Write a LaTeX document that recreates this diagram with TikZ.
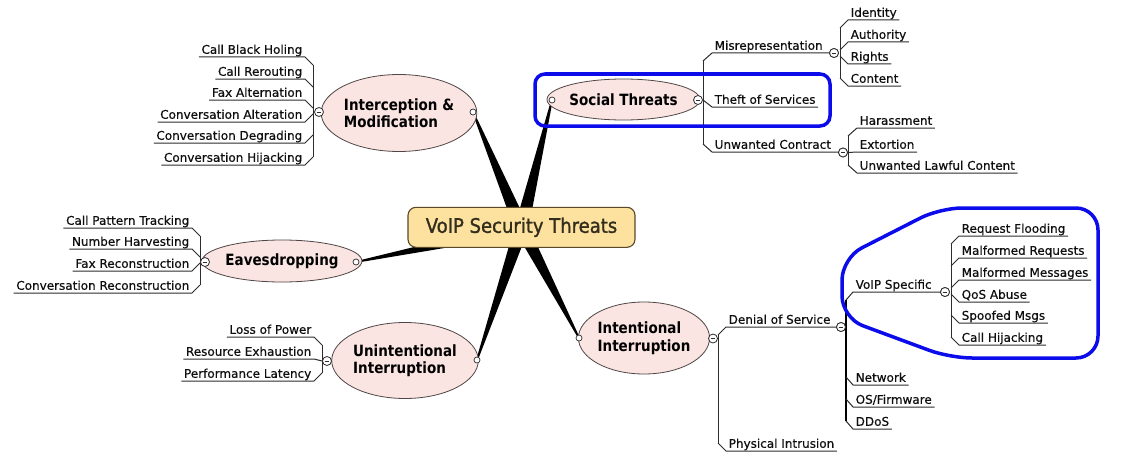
\documentclass[tikz,border=0pt]{standalone}
\usepackage{fontspec}
\setmainfont{DejaVu Sans}[FakeBold=0.4]
\newfontfamily\ctrfont{DejaVu Sans}[FakeStretch=0.9,FakeBold=1.3]
\newfontfamily\ellfont{DejaVu Sans}[FakeStretch=0.87]
\usetikzlibrary{shapes.geometric,calc}
\definecolor{ellf}{RGB}{250,229,226}
\definecolor{elld}{RGB}{80,70,70}
\definecolor{ctrf}{RGB}{252,226,158}
\definecolor{ctrd}{RGB}{90,72,40}
\definecolor{ctrt}{RGB}{50,45,28}
\definecolor{ln}{RGB}{45,45,45}
\definecolor{txt}{RGB}{15,15,15}
\definecolor{hl}{RGB}{12,12,235}
\begin{document}
\begin{tikzpicture}[x=1pt,y=-1pt,
  base/.style={font=\fontsize{12}{14}\selectfont, text=txt, inner xsep=2.5pt, inner ysep=1pt, text height=9pt, text depth=2pt},
  lc/.style={base, anchor=south east},
  rc/.style={base, anchor=south west},
  br/.style={draw=ln, line width=1pt},
  ell/.style={ellipse, draw=elld, fill=ellf, line width=0.8pt, inner sep=0pt, align=left, text=black,
    font={\ellfont\fontsize{15.5}{17.5}\selectfont\bfseries}},
  ctr/.style={rectangle, rounded corners=8pt, draw=ctrd, fill=ctrf, line width=1.1pt, minimum width=227pt, minimum height=40pt,
    text=ctrt, font={\ctrfont\fontsize{20}{22}\selectfont}},
  minus/.style={circle, draw=ln, fill=white, line width=0.8pt, minimum size=9pt, inner sep=0pt,
    path picture={\draw[ln, line width=0.8pt] ([xshift=-2.3pt]path picture bounding box.center) -- ([xshift=2.3pt]path picture bounding box.center);}},
  tipc/.style={circle, draw=ln, fill=white, line width=0.7pt, minimum size=6pt, inner sep=0pt},
  hlbox/.style={draw=hl, line width=3.5pt, rounded corners=10pt}
]
\fill[white] (0,0) rectangle (1124,460);
\useasboundingbox (0,0) rectangle (1124,460);

% hub and wedge tips
\coordinate (hub) at (521.5,228);
\coordinate (ti) at (473,112);
\coordinate (ts) at (552,100);
\coordinate (te) at (356,262);
\coordinate (tu) at (477,360);
\coordinate (tn) at (579,338);
\foreach \t in {ti,ts,te,tu,tn}
  \fill[black] ($(hub)!7pt!90:(\t)$) -- ($(\t)!0.8pt!-90:(hub)$) -- ($(\t)!0.8pt!90:(hub)$) -- ($(hub)!7pt!-90:(\t)$) -- cycle;

\node[ctr] (root) at (521.5,227.3) {VoIP Security Threats};

% main topics
\node[ell, minimum width=148pt, minimum height=77pt] (ic) at (399,113) {Interception \&\\Modification};
\node[ell, minimum width=135pt, minimum height=41pt] (sc) at (623.5,99.5) {Social Threats};
\node[ell, minimum width=137pt, minimum height=42pt] (ec) at (282,261) {Eavesdropping};
\node[ell, minimum width=138pt, minimum height=76pt] (uc) at (405,360.5) {Unintentional\\Interruption};
\node[ell, minimum width=122pt, minimum height=72pt] (nc) at (644,338) {Intentional\\Interruption};

\node[tipc] (tic) at (ti) {};
\node[tipc] (tsc) at (ts) {};
\node[tipc] (tec) at (te) {};
\node[tipc] (tuc) at (tu) {};
\node[tipc] (tnc) at (tn) {};

% ---------- Interception & Modification ----------
\coordinate (it1) at (313,65); \coordinate (it2) at (313,157);
\draw[br] (it1) -- (it2);
\node[lc] (i1) at (305,57) {Call Black Holing};
\node[lc] (i2) at (305,79) {Call Rerouting};
\node[lc] (i3) at (305,100) {Fax Alternation};
\node[lc] (i4) at (305,122) {Conversation Alteration};
\node[lc] (i5) at (305,143) {Conversation Degrading};
\node[lc] (i6) at (305,165) {Conversation Hijacking};
\foreach \n in {i1,i2,i3} \draw[br] (\n.south west) -- (\n.south east) -- ++(8,8);
\foreach \n in {i4,i5,i6} \draw[br] (\n.south west) -- (\n.south east) -- ++(8,-8);
\node[minus] (im) at (319,112) {};

% ---------- Eavesdropping ----------
\coordinate (et1) at (200,236); \coordinate (et2) at (200,285);
\draw[br] (et1) -- (et2);
\node[lc] (e1) at (192,228) {Call Pattern Tracking};
\node[lc] (e2) at (192,249) {Number Harvesting};
\node[lc] (e3) at (192,271) {Fax Reconstruction};
\node[lc] (e4) at (192,293) {Conversation Reconstruction};
\foreach \n in {e1,e2} \draw[br] (\n.south west) -- (\n.south east) -- ++(8,8);
\foreach \n in {e3,e4} \draw[br] (\n.south west) -- (\n.south east) -- ++(8,-8);
\node[minus] (em) at (205,262) {};

% ---------- Unintentional Interruption ----------
\coordinate (ut1) at (322,345); \coordinate (ut2) at (322,373);
\draw[br] (ut1) -- (ut2);
\node[lc] (u1) at (314,337) {Loss of Power};
\node[lc] (u2) at (314,359) {Resource Exhaustion};
\node[lc] (u3) at (314,381) {Performance Latency};
\draw[br] (u1.south west) -- (u1.south east) -- ++(8,8);
\draw[br] (u2.south west) -- (u2.south east) -- ++(8,2);
\draw[br] (u3.south west) -- (u3.south east) -- ++(8,-8);
\node[minus] (um) at (327,361) {};

% ---------- Social Threats ----------
\coordinate (st1) at (703,61); \coordinate (st2) at (703,144);
\draw[br] (st1) -- (st2);
\node[minus] (sm1) at (834,53) {};
\node[minus] (sm2) at (843,152.5) {};
\node[rc] (s1) at (712,53) {Misrepresentation};
\node[rc] (s2) at (712,107) {Theft of Services};
\node[rc] (s3) at (712,152) {Unwanted Contract};
\draw[br] (s1.south west -| sm1.west) -- (s1.south west) -- ++(-9,8);
\draw[br] (s2.south east) -- (s2.south west) -- ++(-9,-7);
\draw[br] (s3.south west -| sm2.west) -- (s3.south west) -- ++(-9,-8);
\node[minus] (sm) at (698,100) {};

% Misrepresentation children
\coordinate (mt1) at (840,28); \coordinate (mt2) at (840,78);
\draw[br] (mt1) -- (mt2);
\node[rc] (m1) at (848,20) {Identity};
\node[rc] (m2) at (848,42) {Authority};
\node[rc] (m3) at (848,64) {Rights};
\node[rc] (m4) at (848,86) {Content};
\foreach \n in {m1,m2} \draw[br] (\n.south east) -- (\n.south west) -- ++(-8,8);
\foreach \n in {m3,m4} \draw[br] (\n.south east) -- (\n.south west) -- ++(-8,-8);
\node[minus] at (sm1) {};

% Unwanted Contract children
\coordinate (wt1) at (848,136); \coordinate (wt2) at (848,165);
\draw[br] (wt1) -- (wt2);
\node[rc] (w1) at (857,128) {Harassment};
\node[rc] (w2) at (857,152) {Extortion};
\node[rc] (w3) at (857,173) {Unwanted Lawful Content};
\draw[br] (w1.south east) -- (w1.south west) -- ++(-9,8);
\draw[br] (w2.south east) -- (w2.south west) -- ++(-9,0.5);
\draw[br] (w3.south east) -- (w3.south west) -- ++(-9,-8);
\node[minus] at (sm2) {};

% ---------- Intentional Interruption ----------
\coordinate (nt1) at (718,335); \coordinate (nt2) at (718,443);
\draw[br] (nt1) -- (nt2);
\node[minus] (dm) at (841,327) {};
\node[rc] (n1) at (726,327) {Denial of Service};
\node[rc] (n2) at (726,451) {Physical Intrusion};
\draw[br] (n1.south west -| dm.west) -- (n1.south west) -- ++(-8,8);
\draw[br] (n2.south east) -- (n2.south west) -- ++(-8,-8);
\node[minus] (nm) at (713,338.5) {};

% Denial of Service children
\coordinate (dt1) at (846,300); \coordinate (dt2) at (846,421);
\draw[draw=black, line width=1.3pt] (dt1) -- (dt2);
\node[minus] (vm) at (945,292) {};
\node[rc] (d1) at (853,292) {VoIP Specific};
\node[rc] (d2) at (853,385) {Network};
\node[rc] (d3) at (853,407) {OS/Firmware};
\node[rc] (d4) at (853,429) {DDoS};
\draw[br] (d1.south west -| vm.west) -- (d1.south west) -- ++(-7,8);
\foreach \n in {d2,d3,d4} \draw[br] (\n.south east) -- (\n.south west) -- ++(-7,-8);
\node[minus] at (dm) {};

% VoIP Specific children
\coordinate (vt1) at (951,244); \coordinate (vt2) at (951,337);
\draw[br] (vt1) -- (vt2);
\node[rc] (v1) at (959,236) {Request Flooding};
\node[rc] (v2) at (959,258) {Malformed Requests};
\node[rc] (v3) at (959,280) {Malformed Messages};
\node[rc] (v4) at (959,302) {QoS Abuse};
\node[rc] (v5) at (959,323) {Spoofed Msgs};
\node[rc] (v6) at (959,345) {Call Hijacking};
\foreach \n in {v1,v2,v3} \draw[br] (\n.south east) -- (\n.south west) -- ++(-8,8);
\foreach \n in {v4,v5,v6} \draw[br] (\n.south east) -- (\n.south west) -- ++(-8,-8);
\node[minus] at (vm) {};

% ---------- blue highlights ----------
\draw[hlbox] (535,74) rectangle (830,126);
\draw[hlbox, rounded corners=22pt] (940,208) -- (1098,208) -- (1098,358) -- (950,358) -- (842,318) -- (842,258) -- cycle;
\end{tikzpicture}
\end{document}
